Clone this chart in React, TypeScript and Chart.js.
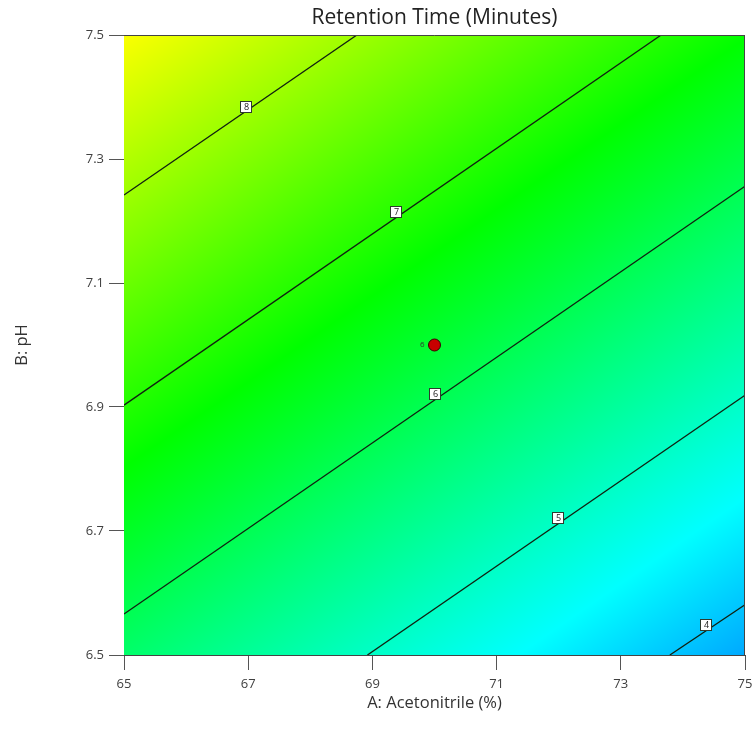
import React, { useEffect, useRef } from "react";
import { Chart, registerables } from "chart.js";

Chart.register(...registerables);

// ---- Data ----
const TITLE = "Retention Time (Minutes)";
const X_TITLE = "A: Acetonitrile (%)";
const Y_TITLE = "B: pH";

const X_TICKS = [65, 67, 69, 71, 73, 75];
const Y_TICKS = [6.5, 6.7, 6.9, 7.1, 7.3, 7.5];

const GRID_ROW_65 = [5.8, 5.39, 4.98, 4.57, 4.16, 3.75];
const GRID_ROW_67 = [6.39, 5.98, 5.57, 5.16, 4.75, 4.34];
const GRID_ROW_69 = [6.99, 6.58, 6.17, 5.76, 5.35, 4.94];
const GRID_ROW_71 = [7.58, 7.17, 6.76, 6.35, 5.94, 5.53];
const GRID_ROW_73 = [8.17, 7.76, 7.35, 6.94, 6.53, 6.12];
const GRID_ROW_75 = [8.77, 8.36, 7.95, 7.54, 7.13, 6.72];
const GRID = [GRID_ROW_65, GRID_ROW_67, GRID_ROW_69, GRID_ROW_71, GRID_ROW_73, GRID_ROW_75];

// Colour scale stops (response value -> colour)
const CMAP_VALUES = [3.5, 4.5, 5.6, 6.7, 7.75, 8.8];
const CMAP_COLORS = [
  [0, 140, 255],
  [0, 255, 255],
  [0, 255, 128],
  [0, 255, 0],
  [128, 255, 0],
  [255, 255, 0],
];

// Contour lines (levels and end points)
const CONTOUR_LEVELS = ["8", "7", "6", "5", "4"];
const CONTOUR_X = [
  [65, 68.75],
  [65, 73.65],
  [65, 75],
  [68.92, 75],
  [73.79, 75],
];
const CONTOUR_Y = [
  [7.242, 7.5],
  [6.903, 7.5],
  [6.566, 7.256],
  [6.5, 6.919],
  [6.5, 6.581],
];
const LABEL_X = [66.97, 69.38, 70.0, 71.99, 74.38];
const LABEL_Y = [7.384, 7.215, 6.921, 6.721, 6.548];

// Design point
const POINT_X = [70];
const POINT_Y = [7.0];
const POINT_LABEL = ["6"];

const FONT = "'Open Sans', 'Noto Sans', sans-serif";

function interpGrid(x: number, y: number) {
  const fx = Math.max(0, Math.min(X_TICKS.length - 1.0001, ((x - X_TICKS[0]) / (X_TICKS[X_TICKS.length - 1] - X_TICKS[0])) * (X_TICKS.length - 1)));
  const fy = Math.max(0, Math.min(Y_TICKS.length - 1.0001, ((y - Y_TICKS[0]) / (Y_TICKS[Y_TICKS.length - 1] - Y_TICKS[0])) * (Y_TICKS.length - 1)));
  const i = Math.floor(fx), j = Math.floor(fy);
  const tx = fx - i, ty = fy - j;
  const a = GRID[j][i], b = GRID[j][i + 1], c = GRID[j + 1][i], d = GRID[j + 1][i + 1];
  return (a * (1 - tx) + b * tx) * (1 - ty) + (c * (1 - tx) + d * tx) * ty;
}

function colorFor(v: number) {
  if (v <= CMAP_VALUES[0]) return CMAP_COLORS[0];
  for (let k = 0; k < CMAP_VALUES.length - 1; k++) {
    if (v <= CMAP_VALUES[k + 1]) {
      const t = (v - CMAP_VALUES[k]) / (CMAP_VALUES[k + 1] - CMAP_VALUES[k]);
      const c0 = CMAP_COLORS[k], c1 = CMAP_COLORS[k + 1];
      return [0, 1, 2].map((n) => Math.round(c0[n] + (c1[n] - c0[n]) * t));
    }
  }
  return CMAP_COLORS[CMAP_COLORS.length - 1];
}

const surfacePlugin = {
  id: "surface",
  beforeDatasetsDraw(chart: any) {
    const { ctx, chartArea, scales } = chart;
    const w = Math.round(chartArea.right - chartArea.left);
    const h = Math.round(chartArea.bottom - chartArea.top);
    const off = document.createElement("canvas");
    off.width = w;
    off.height = h;
    const octx = off.getContext("2d")!;
    const img = octx.createImageData(w, h);
    for (let py = 0; py < h; py++) {
      const yv = scales.y.getValueForPixel(chartArea.top + py + 0.5);
      for (let px = 0; px < w; px++) {
        const xv = scales.x.getValueForPixel(chartArea.left + px + 0.5);
        const c = colorFor(interpGrid(xv, yv));
        const idx = (py * w + px) * 4;
        img.data[idx] = c[0];
        img.data[idx + 1] = c[1];
        img.data[idx + 2] = c[2];
        img.data[idx + 3] = 255;
      }
    }
    octx.putImageData(img, 0, 0);
    ctx.save();
    ctx.drawImage(off, chartArea.left, chartArea.top, w, h);
    ctx.restore();
  },
  afterDatasetsDraw(chart: any) {
    const { ctx, chartArea, scales } = chart;
    ctx.save();
    // contour labels
    ctx.font = `9px ${FONT}`;
    ctx.textAlign = "center";
    ctx.textBaseline = "middle";
    CONTOUR_LEVELS.forEach((lab, k) => {
      const px = scales.x.getPixelForValue(LABEL_X[k]);
      const py = scales.y.getPixelForValue(LABEL_Y[k]);
      const bx = Math.round(px - 6), by = Math.round(py - 6);
      ctx.fillStyle = "#ffffff";
      ctx.fillRect(bx, by, 12, 12);
      ctx.strokeStyle = "#2e3a2e";
      ctx.lineWidth = 1;
      ctx.strokeRect(bx + 0.5, by + 0.5, 11, 11);
      ctx.fillStyle = "#222222";
      ctx.fillText(lab, bx + 6.5, by + 6.5);
    });
    // design point label
    ctx.font = `8px ${FONT}`;
    ctx.fillStyle = "#333333";
    ctx.textAlign = "right";
    POINT_LABEL.forEach((lab, k) => {
      const px = scales.x.getPixelForValue(POINT_X[k]);
      const py = scales.y.getPixelForValue(POINT_Y[k]);
      ctx.fillText(lab, px - 10, py);
    });
    // plot box top & right
    ctx.strokeStyle = "#444444";
    ctx.lineWidth = 1;
    ctx.beginPath();
    ctx.moveTo(chartArea.left, chartArea.top + 0.5);
    ctx.lineTo(chartArea.right, chartArea.top + 0.5);
    ctx.moveTo(chartArea.right - 0.5, chartArea.top);
    ctx.lineTo(chartArea.right - 0.5, chartArea.bottom);
    ctx.stroke();
    // title
    ctx.font = `21px ${FONT}`;
    ctx.fillStyle = "#222222";
    ctx.textAlign = "center";
    ctx.textBaseline = "middle";
    ctx.fillText(TITLE, (chartArea.left + chartArea.right) / 2, 18);
    ctx.restore();
  },
};

export default function App() {
  const ref = useRef<HTMLCanvasElement>(null);
  useEffect(() => {
    if (!ref.current) return;
    const contourSets = CONTOUR_LEVELS.map((lab, k) => ({
      type: "line" as const,
      label: "Contour " + lab,
      data: CONTOUR_X[k].map((x, i) => ({ x, y: CONTOUR_Y[k][i] })),
      borderColor: "#102010",
      borderWidth: 1.3,
      pointRadius: 0,
      fill: false,
      tension: 0,
    }));
    const chart = new Chart(ref.current, {
      type: "scatter",
      data: {
        datasets: [
          ...contourSets,
          {
            type: "scatter" as const,
            label: "Design point",
            data: POINT_X.map((x, i) => ({ x, y: POINT_Y[i] })),
            backgroundColor: "#c80000",
            borderColor: "#3a0000",
            borderWidth: 1,
            pointRadius: 6,
          },
        ] as any,
      },
      options: {
        animation: false,
        responsive: false,
        devicePixelRatio: 1,
        layout: { padding: { top: 35, right: 10, left: 0, bottom: 0 } },
        plugins: { legend: { display: false }, tooltip: { enabled: false }, title: { display: false } },
        scales: {
          x: {
            type: "linear",
            min: 65,
            max: 75,
            afterBuildTicks: (s: any) => { s.ticks = X_TICKS.map((v) => ({ value: v })); },
            afterFit: (s: any) => { s.height = 90; s.paddingLeft = 0; s.paddingRight = 0; },
            ticks: { color: "#404040", font: { family: FONT, size: 13 }, padding: 6, callback: (v: any) => String(v) },
            grid: { drawOnChartArea: false, drawTicks: true, tickLength: 15, color: "#555555" },
            border: { display: true, color: "#444444", width: 1 },
            title: { display: true, text: X_TITLE, color: "#333333", font: { family: FONT, size: 16.5 }, padding: { top: 0, bottom: 32 } },
          },
          y: {
            type: "linear",
            min: 6.5,
            max: 7.5,
            afterBuildTicks: (s: any) => { s.ticks = Y_TICKS.map((v) => ({ value: v })); },
            afterFit: (s: any) => { s.width = 124; s.paddingTop = 0; s.paddingBottom = 0; },
            ticks: { color: "#404040", font: { family: FONT, size: 13 }, padding: 5, callback: (v: any) => Number(v).toFixed(1) },
            grid: { drawOnChartArea: false, drawTicks: true, tickLength: 15, color: "#555555" },
            border: { display: true, color: "#444444", width: 1 },
            title: { display: true, text: Y_TITLE, color: "#333333", font: { family: FONT, size: 16.5 }, padding: { top: 12, bottom: 0 } },
          },
        },
      } as any,
      plugins: [surfacePlugin],
    });
    return () => chart.destroy();
  }, []);
  return (
    <div style={{ position: "absolute", left: 0, top: 0, width: 755, height: 745, background: "#ffffff" }}>
      <canvas ref={ref} width={755} height={745} style={{ width: 755, height: 745 }} />
    </div>
  );
}
